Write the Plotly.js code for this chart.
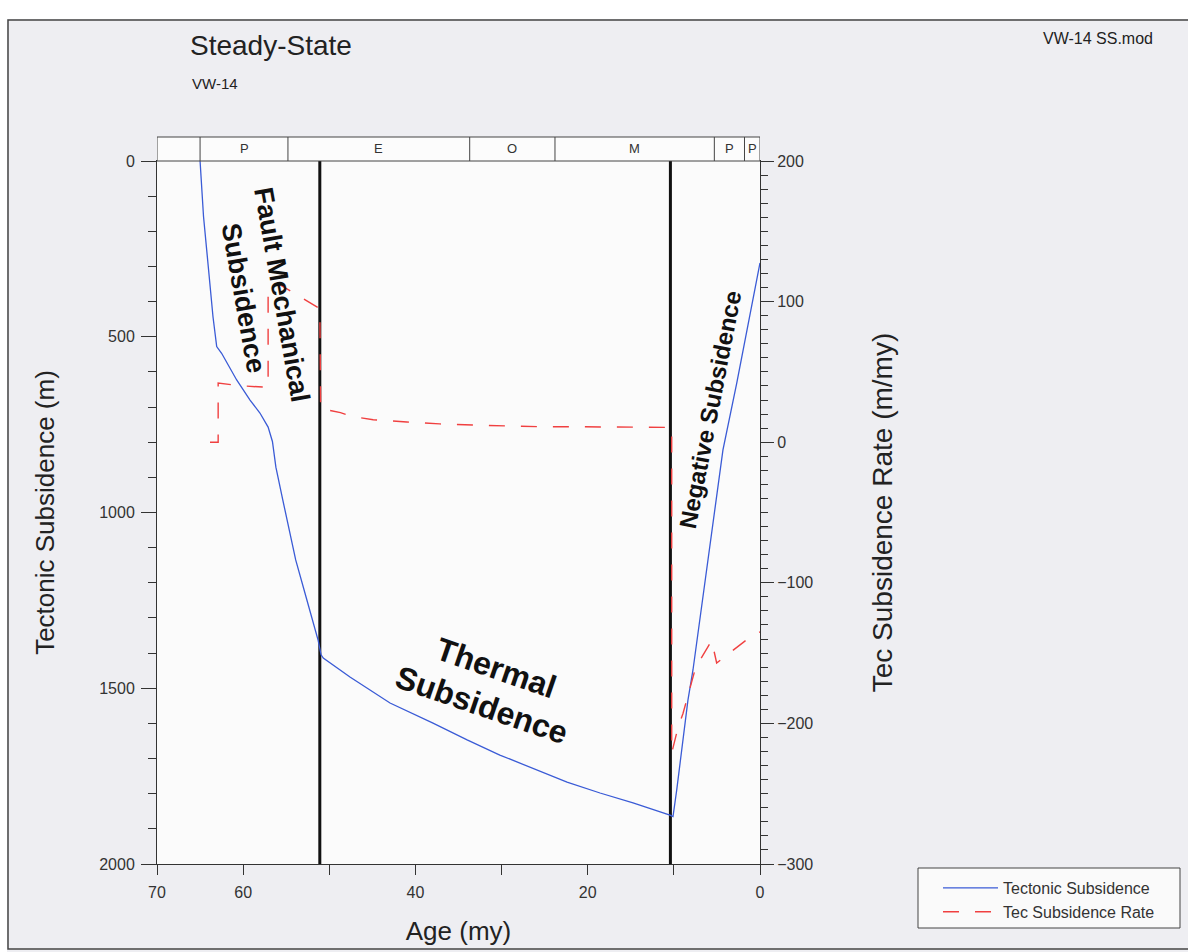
<!DOCTYPE html>
<html><head><meta charset="utf-8">
<script src="https://cdn.plot.ly/plotly-3.0.1.min.js"></script>
<style>html,body{margin:0;padding:0;background:#fff}#chart{width:1188px;height:952px}</style>
</head><body><div id="chart"></div>
<script>
// ---- data ----
const subsidenceAge = [65.0, 64.6, 64.05, 63.5, 63.07, 62.5, 60.75, 59.2, 58.05, 57.1, 56.6, 56.2, 55.4, 53.9, 52.6, 51.3, 50.95,
  50.7, 47.6, 42.95, 37.96, 34.0, 30.2, 26.35, 22.4, 18.57, 14.74, 10.45, 10.1,
  9.67, 8.36, 7.78, 6.04, 4.3, 2.7, 1.16, 0];
const subsidenceDepth = [0, 158, 300, 443, 528, 547, 623, 680, 717, 757, 798, 871, 964, 1135, 1249, 1363, 1405,
  1414, 1468, 1542, 1599, 1647, 1690, 1727, 1767, 1798, 1826, 1861, 1865,
  1790, 1533, 1448, 1135, 822, 632, 443, 290];

const rateAge = [63.85, 62.9, 62.9, 60.0, 57.1, 57.1, 56.0, 54.6, 53.0, 51.4, 51.1, 51.0,
  48.7, 47.5, 44.9, 41.0, 37.2, 33.3, 29.4, 25.5, 21.7, 17.8, 12.0, 10.25,
  10.25, 9.52, 8.94, 8.36, 7.55, 6.97, 5.61, 5.03, 2.7, 0.81, 0];
const rateValue = [0, 0, 42, 40, 39, 106, 113, 108, 102, 96, 95, 24,
  21, 18.5, 16, 14.4, 13, 12.2, 11.5, 11, 11, 10.7, 10.5, 10.5,
  -221, -203, -193, -180, -162, -155, -141, -157, -146, -137, -135];

const periodBounds = [65, 54.8, 33.7, 23.8, 5.3, 1.8, 0];
const periodLabels = ['P', 'E', 'O', 'M', 'P', 'P'];
const markerLineAges = [51.1, 10.4];

const xTickVals = [70, 60, 50, 40, 30, 20, 10, 0];
const xTickText = ['70', '60', '', '40', '', '20', '', '0'];
const yTickVals = [0, 500, 1000, 1500, 2000];
const y2TickVals = [200, 100, 0, -100, -200, -300];

// ---- layout geometry ----
const W = 1188, H = 952, L = 157, R = 760, T = 161, B = 864;
const px = v => (v - L) / (R - L);
const py = v => (B - v) / (B - T);
const FONT = 'Liberation Sans, Arial, Helvetica, sans-serif';

const traces = [
  {x: subsidenceAge, y: subsidenceDepth, yaxis: 'y', type: 'scatter', mode: 'lines',
   name: 'Tectonic Subsidence', line: {color: '#3a5bd6', width: 1.3}},
  {x: rateAge, y: rateValue, yaxis: 'y2', type: 'scatter', mode: 'lines',
   name: 'Tec Subsidence Rate', line: {color: '#f04040', width: 1.4, dash: '16px,16px'}}
];

const shapes = [
  {type: 'rect', xref: 'paper', yref: 'paper', x0: px(0), x1: px(W), y0: py(19), y1: py(0),
   fillcolor: '#ffffff', line: {width: 0}, layer: 'below'},
  {type: 'rect', xref: 'paper', yref: 'paper', x0: px(0), x1: px(7), y0: py(H), y1: py(0),
   fillcolor: '#ffffff', line: {width: 0}, layer: 'below'},
  {type: 'rect', xref: 'paper', yref: 'paper', x0: px(8), x1: px(W + 5), y0: py(949), y1: py(20),
   line: {color: '#444', width: 1.5}, layer: 'below'},
  {type: 'rect', xref: 'paper', yref: 'paper', x0: px(918), x1: px(1180), y0: py(928), y1: py(868),
   fillcolor: '#fafafa', line: {color: '#444', width: 1}, layer: 'below'},
  {type: 'rect', xref: 'x', yref: 'paper', x0: 70, x1: 0, y0: 1, y1: py(137),
   fillcolor: '#fcfcfc', line: {color: '#444', width: 1}, layer: 'above'}
];
periodBounds.slice(0, -1).forEach(a => shapes.push(
  {type: 'line', xref: 'x', yref: 'paper', x0: a, x1: a, y0: 1, y1: py(137), line: {color: '#444', width: 1}}));
markerLineAges.forEach(a => shapes.push(
  {type: 'line', xref: 'x', yref: 'paper', x0: a, x1: a, y0: 0, y1: 1, line: {color: '#111', width: 3}, layer: 'below'}));

const annotations = [];
periodLabels.forEach((lab, i) => annotations.push({
  xref: 'x', yref: 'paper', x: (periodBounds[i] + periodBounds[i + 1]) / 2, y: py(149),
  text: lab, showarrow: false, font: {family: FONT, size: 13, color: '#333'}, xanchor: 'center', yanchor: 'middle'}));

const bigFont = s => ({family: FONT, size: s, color: '#111'});
annotations.push(
  {xref: 'x', yref: 'y', x: 55.5, y: 381, text: '<b>Fault Mechanical</b>', textangle: 80, showarrow: false, font: bigFont(27)},
  {xref: 'x', yref: 'y', x: 60.0, y: 391, text: '<b>Subsidence</b>', textangle: 80, showarrow: false, font: bigFont(27)},
  {xref: 'x', yref: 'y', x: 30.6, y: 1442, text: '<b>Thermal</b>', textangle: 19, showarrow: false, font: bigFont(32)},
  {xref: 'x', yref: 'y', x: 32.3, y: 1548, text: '<b>Subsidence</b>', textangle: 19, showarrow: false, font: bigFont(32)},
  {xref: 'x', yref: 'y', x: 5.75, y: 708, text: '<b>Negative Subsidence</b>', textangle: -79, showarrow: false, font: bigFont(24)},
  {xref: 'paper', yref: 'paper', x: px(190), y: py(83), xanchor: 'left', yanchor: 'middle', text: 'VW-14',
   showarrow: false, font: {family: FONT, size: 15, color: '#222'}},
  {xref: 'paper', yref: 'paper', x: px(1155), y: py(38), xanchor: 'right', yanchor: 'middle', text: 'VW-14 SS.mod',
   showarrow: false, font: {family: FONT, size: 16, color: '#222'}}
);

const axisCommon = {showgrid: false, zeroline: false, showline: true, linecolor: '#333', linewidth: 1,
  ticks: 'outside', tickcolor: '#333', tickwidth: 1, tickfont: {family: FONT, size: 16, color: '#333'}};

const layout = {
  width: W, height: H,
  margin: {l: L, r: W - R, t: T, b: H - B, pad: 0},
  paper_bgcolor: '#eeeef2', plot_bgcolor: '#fbfbfb',
  font: {family: FONT, color: '#222'},
  title: {text: 'Steady-State', xref: 'container', yref: 'container', x: 190 / W, y: 1 - 45 / H,
          xanchor: 'left', yanchor: 'middle', font: {family: FONT, size: 28, color: '#222'}},
  showlegend: true,
  legend: {x: px(938), y: py(871), xanchor: 'left', yanchor: 'top', bgcolor: 'rgba(0,0,0,0)', borderwidth: 0,
           itemwidth: 55, font: {family: FONT, size: 16, color: '#333'}},
  xaxis: Object.assign({}, axisCommon, {range: [70, 0], tickmode: 'array', tickvals: xTickVals, ticktext: xTickText,
           ticklen: 10, ticklabelstandoff: 4, mirror: true,
           title: {text: 'Age (my)', font: {family: FONT, size: 26, color: '#222'}, standoff: 21}}),
  yaxis: Object.assign({}, axisCommon, {range: [2000, 0], tickmode: 'array', tickvals: yTickVals, ticklen: 15,
           ticklabelstandoff: 3,
           minor: {dtick: 100, tick0: 0, ticks: 'outside', ticklen: 8, tickcolor: '#333', showgrid: false},
           title: {text: 'Tectonic Subsidence (m)', font: {family: FONT, size: 26, color: '#222'}, standoff: 37}}),
  yaxis2: Object.assign({}, axisCommon, {overlaying: 'y', side: 'right', range: [-300, 200], tickmode: 'array',
           tickvals: y2TickVals, ticklen: 13,
           minor: {dtick: 10, tick0: 0, ticks: 'outside', ticklen: 7, tickcolor: '#333', showgrid: false},
           title: {text: 'Tec Subsidence Rate (m/my)', font: {family: FONT, size: 28, color: '#222'}, standoff: 60}}),
  shapes: shapes,
  annotations: annotations
};

Plotly.newPlot('chart', traces, layout, {displayModeBar: false, staticPlot: true});
</script>
</body></html>
